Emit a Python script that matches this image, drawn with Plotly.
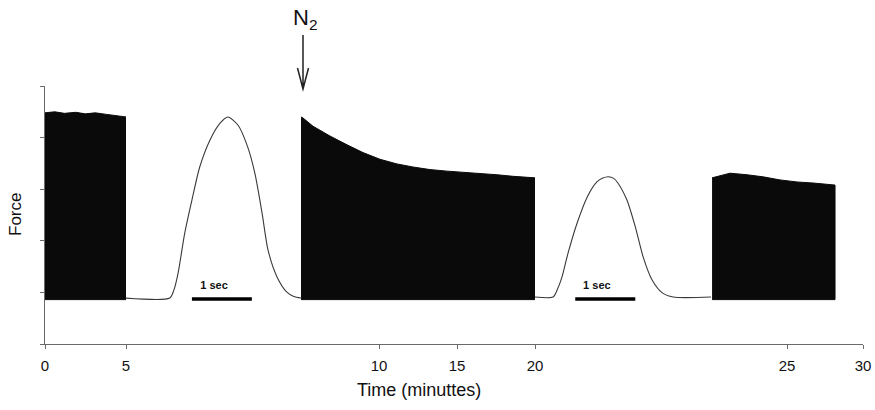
import plotly.graph_objects as go

# ---------------- data ----------------
# Segment A: repetitive contractions, control (time in minutes)
segA_time = [0.0, 0.6, 1.2, 1.9, 2.5, 3.1, 3.8, 4.4, 5.0]
segA_peak = [4.48, 4.50, 4.47, 4.49, 4.46, 4.48, 4.45, 4.43, 4.40]

# Segment B: after N2 (time in minutes)
segB_time = [5.0, 5.13, 5.77, 6.86, 7.95, 8.97, 10.06, 11.15, 12.18, 13.27,
             14.36, 15.38, 16.47, 17.56, 18.59, 19.87, 20.0]
segB_peak = [4.40, 4.38, 4.22, 4.03, 3.86, 3.71, 3.58, 3.49, 3.43, 3.38,
             3.35, 3.33, 3.31, 3.28, 3.25, 3.22, 3.22]

# Segment C: recovery (time in minutes)
segC_time = [20.07, 21.25, 22.37, 23.42, 24.54, 25.66, 26.71, 28.16]
segC_peak = [3.22, 3.31, 3.28, 3.24, 3.18, 3.14, 3.12, 3.08]

train_floor = 0.86

# Single twitch insets (time in seconds)
twitch1_s = [0.0, 0.73, 0.80, 0.87, 0.98, 1.10, 1.23, 1.40, 1.57, 1.70, 1.87,
             2.03, 2.15, 2.27, 2.37, 2.52, 2.68, 2.80, 2.92]
twitch1_f = [0.89, 0.89, 1.05, 1.38, 2.15, 2.79, 3.43, 3.95, 4.28, 4.40, 4.24,
             3.82, 3.31, 2.54, 1.82, 1.30, 1.01, 0.92, 0.89]

twitch2_s = [0.0, 0.30, 0.37, 0.45, 0.55, 0.70, 0.87, 1.03, 1.12, 1.22, 1.31,
             1.38, 1.53, 1.67, 1.80, 1.95, 2.12, 2.30, 2.93]
twitch2_f = [0.91, 0.91, 1.05, 1.30, 1.76, 2.34, 2.85, 3.14, 3.21, 3.24, 3.21,
             3.12, 2.79, 2.27, 1.69, 1.24, 0.99, 0.91, 0.91]

# 1-second scale bars (start time in s, length in s)
bar1_start, bar2_start, bar_len = 1.10, 0.67, 1.0
bar_level = 0.87
label1_x, label2_x, label_level = 1.47, 1.03, 1.12

x_ticks_A = [0, 5]
x_ticks_B = [10, 15, 20]
x_ticks_C = [25, 30]

# ---------------- figure ----------------
fig = go.Figure()

def train(t, p, xa):
    fig.add_trace(go.Scatter(
        x=t + t[::-1], y=p + [train_floor] * len(t), xaxis=xa, yaxis="y",
        mode="lines", fill="toself", fillcolor="#0a0a0a",
        line=dict(color="#0a0a0a", width=1), hoverinfo="skip", showlegend=False))

train(segA_time, segA_peak, "x")
train(segB_time, segB_peak, "x3")
train(segC_time, segC_peak, "x5")

for s, f, xa in [(twitch1_s, twitch1_f, "x2"), (twitch2_s, twitch2_f, "x4")]:
    fig.add_trace(go.Scatter(x=s, y=f, xaxis=xa, yaxis="y", mode="lines",
                             line=dict(color="#3a3a3a", width=1.1,
                                       shape="spline", smoothing=0.7),
                             hoverinfo="skip", showlegend=False))

for st, xa, lx in [(bar1_start, "x2", label1_x), (bar2_start, "x4", label2_x)]:
    fig.add_trace(go.Scatter(x=[st, st + bar_len], y=[bar_level, bar_level],
                             xaxis=xa, yaxis="y", mode="lines",
                             line=dict(color="black", width=3.5),
                             hoverinfo="skip", showlegend=False))
    fig.add_trace(go.Scatter(x=[lx], y=[label_level], xaxis=xa, yaxis="y",
                             mode="text", text=["<b>1 sec</b>"],
                             textfont=dict(size=11, color="#111",
                                           family="Liberation Sans, Arial"),
                             hoverinfo="skip", showlegend=False))

axis_color = "#6a6a6a"
common = dict(showline=True, linecolor=axis_color, linewidth=1, showgrid=False,
              zeroline=False, anchor="y", fixedrange=True, ticklabelstandoff=4,
              tickfont=dict(size=15, color="#111", family="Liberation Sans, Arial"))

W, H = 875, 410
PL, PR, PT, PB = 45, 863, 86, 344       # plot area in page pixels
L, T = PL, PT
R, B = W - PR, H - PB
pw = PR - PL
ph = PB - PT

def dom(a, b):
    return [(a - PL) / pw, (b - PL) / pw]

def px(x):
    return (x - PL) / pw

def py(y):
    return (PB - y) / ph

fig.update_layout(
    width=W, height=H, margin=dict(l=L, r=R, t=T, b=B, autoexpand=False),
    paper_bgcolor="white", plot_bgcolor="white",
    xaxis=dict(domain=dom(45, 126), range=[0, 5], tickvals=x_ticks_A,
               ticks="outside", ticklen=4, tickcolor=axis_color, **common),
    xaxis2=dict(domain=dom(126, 301), range=[0, 2.92], showticklabels=False,
                ticks="", **common),
    xaxis3=dict(domain=dom(301, 535), range=[5, 20], tickvals=x_ticks_B,
                ticks="outside", ticklen=4, tickcolor=axis_color, **common),
    xaxis4=dict(domain=dom(535, 711), range=[0, 2.93], showticklabels=False,
                ticks="", **common),
    xaxis5=dict(domain=dom(711, 863), range=[20, 30], tickvals=x_ticks_C,
                ticks="outside", ticklen=4, tickcolor=axis_color, **common),
    yaxis=dict(domain=[0, 1], range=[0, 5], dtick=1, showticklabels=False,
               ticks="outside", ticklen=4, tickcolor=axis_color,
               showline=True, linecolor=axis_color, linewidth=1,
               showgrid=False, zeroline=False, anchor="x", fixedrange=True),
)

txtfont = dict(color="#111", family="Liberation Sans, Arial")
fig.add_annotation(x=px(419), y=py(390), xref="paper", yref="paper",
                   xanchor="center", yanchor="middle",
                   text="Time (minuttes)", showarrow=False,
                   font=dict(size=18, **txtfont))
fig.add_annotation(x=px(15), y=py(214), xref="paper", yref="paper",
                   xanchor="center", yanchor="middle",
                   text="Force", textangle=-90, showarrow=False,
                   font=dict(size=17, **txtfont))
fig.add_annotation(x=px(305), y=py(19), xref="paper", yref="paper",
                   xanchor="center", yanchor="middle",
                   text="N<sub>2</sub>", showarrow=False,
                   font=dict(size=22, **txtfont))

arrow_path = (f"M {px(303)} {py(35)} L {px(303)} {py(89)} "
              f"M {px(297.5)} {py(68)} L {px(303)} {py(89)} L {px(308.5)} {py(68)}")
fig.add_shape(type="path", path=arrow_path, xref="paper", yref="paper",
              line=dict(color="#222", width=1.5))

fig.write_html("out.html", config={"displayModeBar": False},
               post_script="document.body.style.margin='0';"
                           "document.body.style.overflow='hidden';")
